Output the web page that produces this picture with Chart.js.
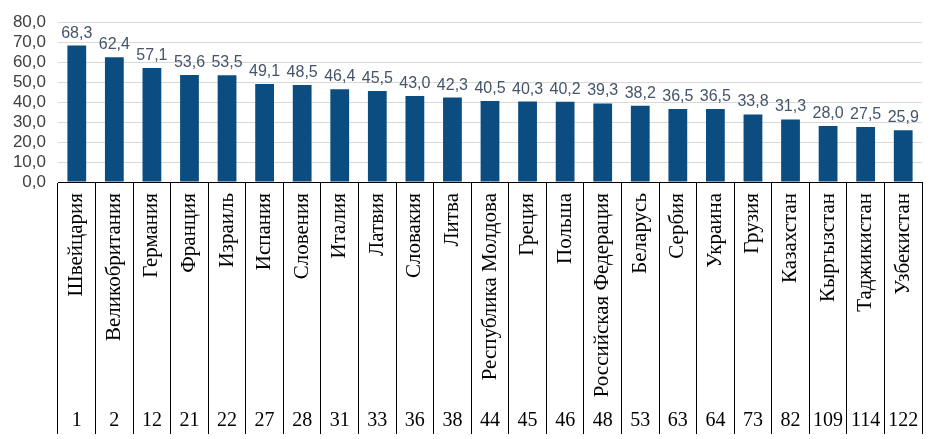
<!DOCTYPE html>
<html>
<head>
<meta charset="utf-8">
<script src="https://cdn.jsdelivr.net/npm/chart.js@4"></script>
<style>
  html, body { margin: 0; padding: 0; background: #fff; }
  #wrap { width: 945px; height: 439px; }
</style>
</head>
<body>
<div id="wrap"><canvas id="rankChart"></canvas></div>
<script>
// chart data
const countries = ['Швейцария', 'Великобритания', 'Германия', 'Франция', 'Израиль', 'Испания', 'Словения',
  'Италия', 'Латвия', 'Словакия', 'Литва', 'Республика Молдова', 'Греция', 'Польша',
  'Российская Федерация', 'Беларусь', 'Сербия', 'Украина', 'Грузия', 'Казахстан',
  'Кыргызстан', 'Таджикистан', 'Узбекистан'];
const scores = [68.3, 62.4, 57.1, 53.6, 53.5, 49.1, 48.5, 46.4, 45.5, 43.0, 42.3, 40.5,
  40.3, 40.2, 39.3, 38.2, 36.5, 36.5, 33.8, 31.3, 28.0, 27.5, 25.9];
const ranks = [1, 2, 12, 21, 22, 27, 28, 31, 33, 36, 38, 44, 45, 46, 48, 53, 63, 64, 73, 82, 109, 114, 122];
const yTicks = [0, 10, 20, 30, 40, 50, 60, 70, 80];

const fmt = v => v.toFixed(1).replace('.', ',');

// draws the value labels and the table under the x axis
const tableText = {
  id: 'tableText',
  afterDraw(chart) {
    const ctx = chart.ctx;
    const x = chart.scales.x;
    const area = chart.chartArea;
    const bars = chart.getDatasetMeta(0).data;
    ctx.save();

    // values over the bars
    ctx.fillStyle = '#44546a';
    ctx.font = '16px "Liberation Sans", Arial, sans-serif';
    ctx.textAlign = 'center';
    ctx.textBaseline = 'alphabetic';
    bars.forEach((bar, i) => {
      ctx.fillText(fmt(scores[i]), bar.x, bar.y - 8);
    });

    // country names, rotated
    ctx.fillStyle = '#000';
    ctx.font = '21px "Liberation Serif", "Times New Roman", serif';
    countries.forEach((name, i) => {
      ctx.save();
      ctx.translate(x.getPixelForValue(i), area.bottom + 11);
      ctx.rotate(-Math.PI / 2);
      ctx.textAlign = 'right';
      ctx.textBaseline = 'middle';
      ctx.fillText(name, 0, 0);
      ctx.restore();
    });

    // rank row
    ctx.font = '20px "Liberation Serif", "Times New Roman", serif';
    ctx.textAlign = 'center';
    ctx.textBaseline = 'middle';
    ranks.forEach((r, i) => {
      ctx.fillText(String(r), x.getPixelForValue(i), 421);
    });
    ctx.restore();
  }
};

const rankChart = new Chart(document.getElementById('rankChart'), {
  type: 'bar',
  data: {
    labels: countries,
    datasets: [{
      data: scores,
      backgroundColor: '#0b4d80',
      barPercentage: 0.5,
      categoryPercentage: 1
    }]
  },
  options: {
    responsive: true,
    maintainAspectRatio: false,
    animation: false,
    layout: { padding: { top: 15, right: 23, bottom: 5, left: 0 } },
    plugins: {
      legend: { display: false },
      tooltip: { enabled: false }
    },
    scales: {
      x: {
        offset: true,
        grid: {
          offset: true,
          drawOnChartArea: false,
          drawTicks: true,
          tickLength: 252,
          color: '#000',
          lineWidth: 1
        },
        border: { display: true, color: '#000', width: 1 },
        ticks: { display: false }
      },
      y: {
        min: 0,
        max: 80,
        afterFit: s => { s.width = 58; },
        afterBuildTicks: s => { s.ticks = yTicks.map(v => ({ value: v })); },
        grid: { color: '#d9d9d9', drawTicks: false },
        border: { display: false },
        ticks: {
          autoSkip: false,
          padding: 12,
          color: '#404040',
          font: { family: '"Liberation Sans", Arial, sans-serif', size: 17 },
          callback: v => fmt(v)
        }
      }
    }
  },
  plugins: [tableText]
});
</script>
</body>
</html>
